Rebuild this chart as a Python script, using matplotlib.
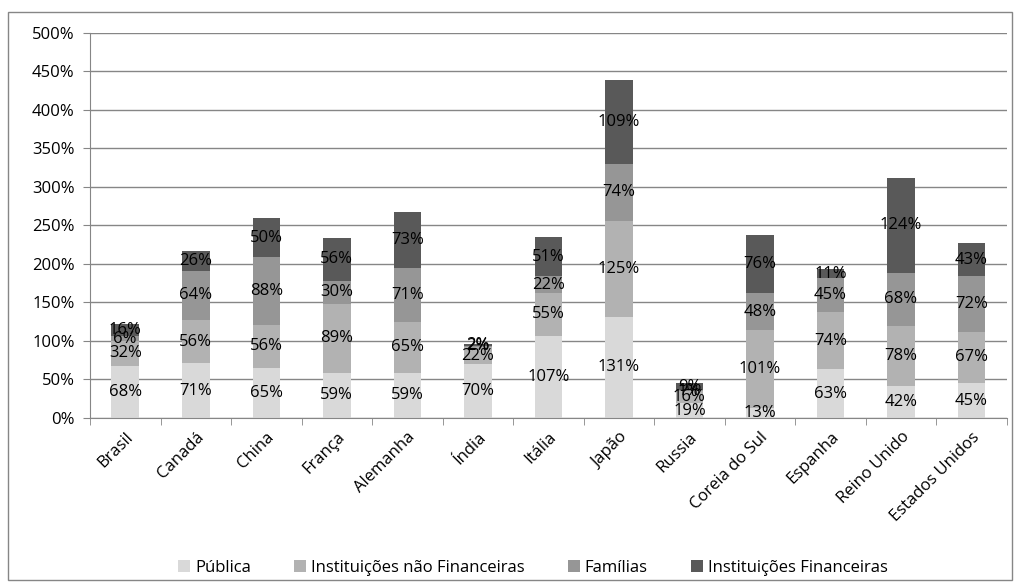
import matplotlib
matplotlib.use("Agg")
import matplotlib.pyplot as plt
import numpy as np
from matplotlib.patches import Rectangle

plt.rcParams['font.family'] = ['Open Sans', 'DejaVu Sans']

countries = ["Brasil", "Canadá", "China", "França", "Alemanha", "Índia", "Itália",
             "Japão", "Russia", "Coreia do Sul", "Espanha", "Reino Unido", "Estados Unidos"]

publica = [68, 71, 65, 59, 59, 70, 107, 131, 19, 13, 63, 42, 45]
inst_nao_fin = [32, 56, 56, 89, 65, 22, 55, 125, 16, 101, 74, 78, 67]
familias = [6, 64, 88, 30, 71, 2, 22, 74, 1, 48, 45, 68, 72]
inst_fin = [16, 26, 50, 56, 73, 2, 51, 109, 9, 76, 11, 124, 43]

series = [
    ("Pública", publica, "#d9d9d9"),
    ("Instituições não Financeiras", inst_nao_fin, "#b2b2b2"),
    ("Famílias", familias, "#969696"),
    ("Instituições Financeiras", inst_fin, "#595959"),
]

fig = plt.figure(figsize=(10.19, 5.87), dpi=100)
ax = fig.add_axes([0.0883, 0.288, 0.8997, 0.656])

x = np.arange(len(countries))
bottom = np.zeros(len(countries))
for name, vals, col in series:
    vals = np.array(vals, dtype=float)
    ax.bar(x, vals, 0.39, bottom=bottom, color=col, label=name, zorder=2)
    for xi, b, v in zip(x, bottom, vals):
        ax.text(xi, b + v / 2, f"{int(v)}%", ha='center', va='center',
                fontsize=12, color='black', zorder=3)
    bottom += vals

ax.set_xlim(-0.5, len(countries) - 0.5)
ax.set_ylim(0, 500)
ax.set_yticks(range(0, 501, 50))
ax.set_yticklabels([f"{v}%" for v in range(0, 501, 50)], fontsize=12)
ax.yaxis.grid(True, color="#868686", linewidth=1, zorder=0)
ax.set_axisbelow(True)

ax.set_xticks(x)
ax.set_xticklabels(countries, rotation=45, ha='right', rotation_mode='anchor', fontsize=12)
ax.tick_params(axis='x', length=0, pad=8)
ax.set_xticks(np.arange(-0.5, len(countries), 1), minor=True)
ax.tick_params(axis='x', which='minor', length=5, color="#868686", direction='out')
ax.tick_params(axis='y', length=5, color="#868686", direction='out', pad=6)

for side in ['top', 'right']:
    ax.spines[side].set_visible(False)
for side in ['left', 'bottom']:
    ax.spines[side].set_color("#868686")

fig.legend(loc='center', bbox_to_anchor=(0.523, 0.033), ncol=4, frameon=False,
           fontsize=12, handlelength=0.7, handleheight=0.7, handletextpad=0.3,
           columnspacing=2.6)

fig.patches.append(Rectangle((0.008, 0.012), 0.985, 0.968, transform=fig.transFigure,
                             fill=False, edgecolor="#868686", linewidth=1))

fig.savefig("out.png", dpi=100)
